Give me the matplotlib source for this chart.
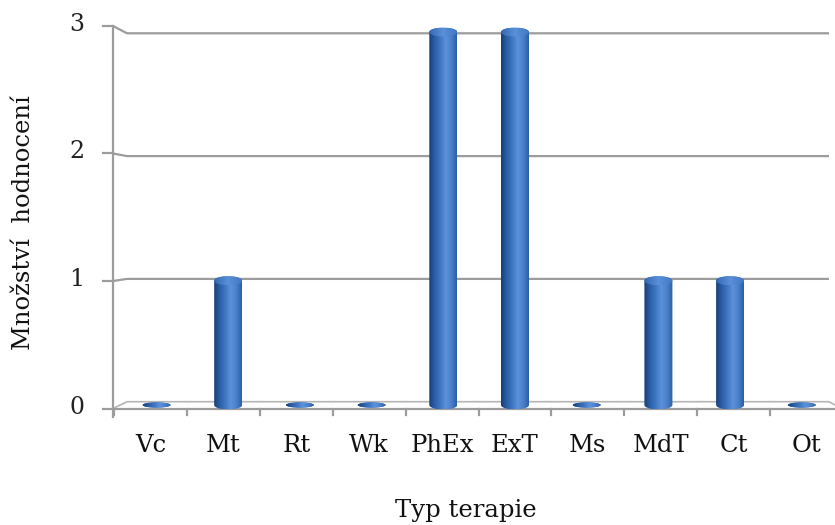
import numpy as np
import matplotlib
matplotlib.use("Agg")
import matplotlib.pyplot as plt
from matplotlib.path import Path
from matplotlib.patches import PathPatch, Ellipse
from matplotlib.colors import LinearSegmentedColormap

categories = ["Vc", "Mt", "Rt", "Wk", "PhEx", "ExT", "Ms", "MdT", "Ct", "Ot"]
values = [0, 1, 0, 0, 3, 3, 0, 1, 1, 0]
y_ticks = [0, 1, 2, 3]
x_title = "Typ terapie"
y_title = "Množství  hodnocení"

plt.rcParams['font.family'] = ['DejaVu Serif']

W, H = 835, 525
fig = plt.figure(figsize=(W / 100, H / 100), dpi=100)
ax = fig.add_axes([0, 0, 1, 1])

# pixel scale of the bars (middle depth of the 3d box)
sx, sy = 71.7, 124.3
x0px, y0px = 156.5, 405
ax.set_xlim(-x0px / sx, (W - x0px) / sx)
ax.set_ylim(-(H - y0px) / sy, y0px / sy)
ax.axis("off")

def px(x):
    return (x - x0px) / sx

def py(y):
    return (y0px - y) / sy

grid_c = "#9c9c9c"
lw = 1.6
ymax = max(y_ticks)

# back wall grid (slightly smaller scale) and front axis (slightly larger)
def y_back(v):
    return py(401.7 - 122.8 * v)

def y_front(v):
    return py(408.5 - 127.5 * v)

xl_front, xl_back, xr_back = px(113), px(127), px(829)
for v in y_ticks:
    if v > 0:
        ax.plot([xl_front, xl_back, xr_back], [y_front(v), y_back(v), y_back(v)],
                color=grid_c, lw=lw, solid_capstyle="butt", zorder=1)
    ax.plot([px(103), xl_front], [y_front(v), y_front(v)], color=grid_c, lw=lw, zorder=1)
    ax.text(px(77), y_front(v) + 1.5 / sy, str(v), ha="center", va="center", fontsize=17,
            color="#222222")

# left axis line
ax.plot([xl_front, xl_front], [py(417), y_front(ymax)], color=grid_c, lw=lw, zorder=1)

# floor
ax.plot([xl_front, xl_back, xr_back, px(835)], [y_front(0), y_back(0), y_back(0), py(405)],
        color="#b5b5b5", lw=1.2, zorder=1)
ax.plot([xl_front, px(835)], [y_front(0), y_front(0)], color=grid_c, lw=lw, zorder=1)

# category ticks and labels on the front edge
step = 72.9
n = len(categories)
for k in range(n + 1):
    xt = px(114 + step * k)
    if xt < px(835):
        ax.plot([xt, xt], [y_front(0), py(415)], color=grid_c, lw=lw, zorder=1)
for k, lab in enumerate(categories):
    ax.text(px(114 + step * (k + 0.5)), py(445), lab, ha="center", va="center",
            fontsize=17.5, color="#111111")

ax.text(px(466), py(510), x_title, ha="center", va="center", fontsize=17.5, color="#111111")
ax.text(px(24), py(223), y_title, ha="center", va="center", rotation=90, fontsize=17.5,
        color="#111111")

# cylinders
body = LinearSegmentedColormap.from_list(
    "body", ["#173f75", "#2a5ea6", "#3f76c2", "#5c92da", "#4a80cb", "#2c5ea3"])
cap = LinearSegmentedColormap.from_list("cap", ["#3469b3", "#5a90d8", "#4178c4"])
grad = np.linspace(0, 1, 256).reshape(1, -1)

hw = 14 / sx
eh = 4.5 / sy
t = np.linspace(np.pi, 2 * np.pi, 60)

for i, v in enumerate(values):
    if v == 0:
        e = Ellipse((i, 0), 2 * hw, 2 * 2.6 / sy, facecolor="#2b5c9e", edgecolor="none", zorder=3)
        ax.add_patch(e)
        im = ax.imshow(grad, cmap=body, aspect="auto", extent=(i - hw, i + hw, -eh, eh), zorder=3)
        im.set_clip_path(e)
        continue
    bx = i + hw * np.cos(t)
    by = eh * np.sin(t)
    tx = i + hw * np.cos(t[::-1] - np.pi)
    ty = v + eh * np.sin(t[::-1] - np.pi)
    verts = np.concatenate([np.column_stack([bx, by]), np.column_stack([tx[::-1], ty[::-1]]),
                            [[bx[0], by[0]]]])
    patch = PathPatch(Path(verts), facecolor="none", edgecolor="none")
    ax.add_patch(patch)
    im = ax.imshow(grad, cmap=body, aspect="auto", extent=(i - hw, i + hw, -eh, v + eh), zorder=3)
    im.set_clip_path(patch)
    top = Ellipse((i, v), 2 * hw, 2 * eh, facecolor="none", edgecolor="none")
    ax.add_patch(top)
    im2 = ax.imshow(grad, cmap=cap, aspect="auto", extent=(i - hw, i + hw, v - eh, v + eh), zorder=4)
    im2.set_clip_path(top)

fig.savefig("out.png", dpi=100)
